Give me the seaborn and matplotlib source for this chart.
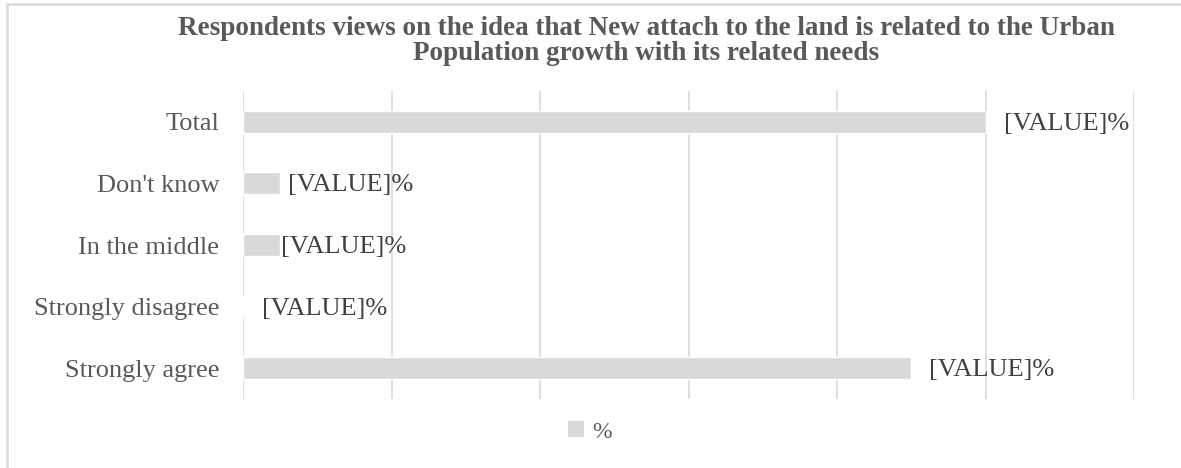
import matplotlib
matplotlib.use("Agg")
import matplotlib.pyplot as plt
import seaborn as sns
import pandas as pd
from matplotlib.patches import Rectangle, Patch

# Survey responses (percent of respondents)
categories = ["Total", "Don't know", "In the middle", "Strongly disagree", "Strongly agree"]
percent = [100, 5, 5, 0, 90]
data_labels = ["[VALUE]%"] * len(categories)
series_name = "%"
title = ("Respondents views on the idea that New attach to the land is related to the Urban\n"
         "Population growth with its related needs")

# horizontal gap between bar end and its data label, in pixels
label_pad_px = [18, 8, 1, 19, 18]

sns.set_theme(style="white")
plt.rcParams["font.family"] = ["Liberation Serif", "DejaVu Serif"]

W, H = 1181, 468
fig = plt.figure(figsize=(W / 100, H / 100), dpi=100)
ax = fig.add_axes([243 / W, 1 - 399 / H, (1134 - 243) / W, (399 - 91) / H])

df = pd.DataFrame({"category": categories, "value": percent})
bar_color = "#d9d9d9"
sns.barplot(data=df, y="category", x="value", orient="h", color=bar_color,
            width=0.36, saturation=1, ax=ax, order=categories)

ax.set_xlim(0, 120)
ax.set_xticks(range(0, 121, 20))
ax.set_xticklabels([])
ax.grid(axis="x", color="#d9d9d9", linewidth=1.2)
ax.grid(axis="y", visible=False)
ax.set_axisbelow(True)
for s in ax.spines.values():
    s.set_visible(False)
ax.set_xlabel("")
ax.set_ylabel("")
ax.tick_params(axis="y", length=0, pad=17, labelsize=19, labelcolor="#595959")
ax.tick_params(axis="x", length=0)

# data labels to the right of each bar
for i, (v, lab, pad) in enumerate(zip(percent, data_labels, label_pad_px)):
    ax.annotate(lab, xy=(v, i), xytext=(pad * 0.72, -1.5), textcoords="offset points",
                va="center", ha="left", fontsize=19, color="#404040")

fig.text(646 / W, 1 - 41 / H, title, ha="center", va="center", fontsize=19.5,
         fontweight="bold", color="#595959", linespacing=1.0)

# legend below the plot
handle = Patch(facecolor=bar_color, edgecolor="none")
fig.legend([handle], [series_name], loc="center", bbox_to_anchor=(590 / W, 1 - 432 / H),
           frameon=False, fontsize=17, handlelength=0.65, handleheight=0.65,
           handletextpad=0.35, labelcolor="#595959")

# chart area border
fig.patches.append(Rectangle((7 / W, -0.1), 1.2, 1.1 - 4 / H, transform=fig.transFigure,
                             fill=False, edgecolor="#d9d9d9", linewidth=1.8))

fig.savefig("out.png", dpi=100)
